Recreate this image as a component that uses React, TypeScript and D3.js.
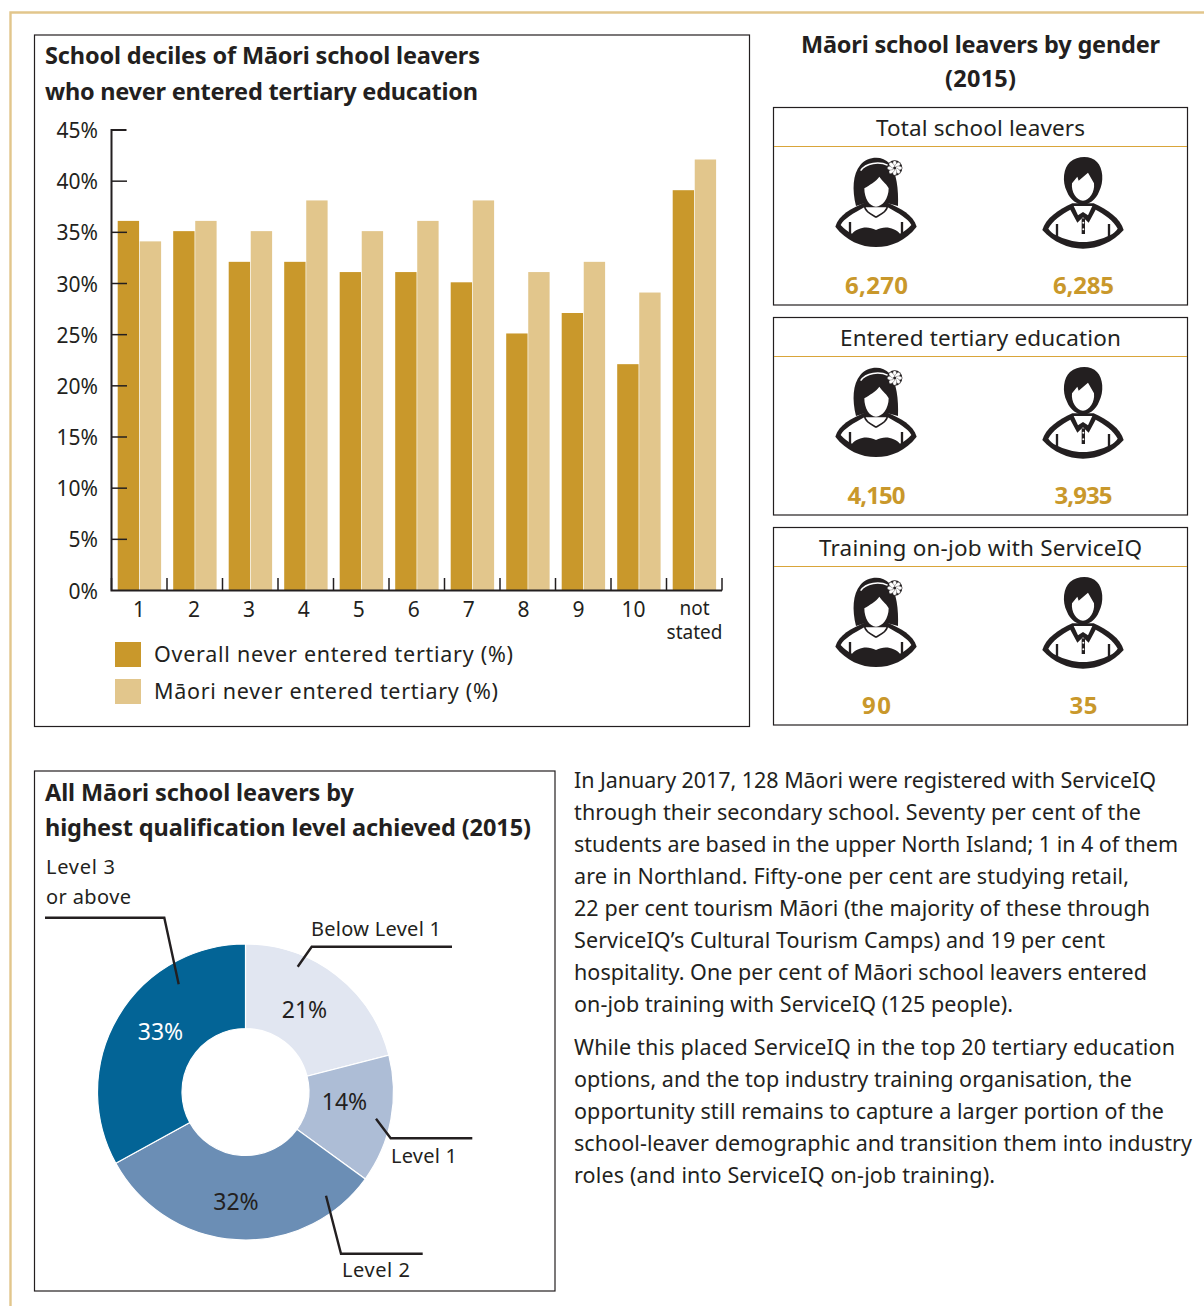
import React from "react";
import * as d3 from "d3";

const categories = ["1", "2", "3", "4", "5", "6", "7", "8", "9", "10", "not stated"];
const overallValues = [36, 35, 32, 32, 31, 31, 30, 25, 27, 22, 39];
const maoriValues = [34, 36, 35, 38, 35, 36, 38, 31, 32, 29, 42];
const yTicks = [0, 5, 10, 15, 20, 25, 30, 35, 40, 45];
const seriesNames = ["Overall never entered tertiary (%)", "Māori never entered tertiary (%)"];

const donutLabels = ["Below Level 1", "Level 1", "Level 2", "Level 3 or above"];
const donutValues = [21, 14, 32, 33];

const genderHeadings = ["Total school leavers", "Entered tertiary education", "Training on-job with ServiceIQ"];
const femaleCounts = ["6,270", "4,150", "90"];
const maleCounts = ["6,285", "3,935", "35"];

const paragraphOne = [
  ["In January 2017, 128 Māori were registered with ServiceIQ", 582],
  ["through their secondary school. Seventy per cent of the", 567],
  ["students are based in the upper North Island; 1 in 4 of them", 604],
  ["are in Northland. Fifty-one per cent are studying retail,", 555],
  ["22 per cent tourism Māori (the majority of these through", 576],
  ["ServiceIQ’s Cultural Tourism Camps) and 19 per cent", 531],
  ["hospitality. One per cent of Māori school leavers entered", 573],
  ["on-job training with ServiceIQ (125 people).", 439],
] as [string, number][];
const paragraphTwo = [
  ["While this placed ServiceIQ in the top 20 tertiary education", 601],
  ["options, and the top industry training organisation, the", 558],
  ["opportunity still remains to capture a larger portion of the", 590],
  ["school-leaver demographic and transition them into industry", 618],
  ["roles (and into ServiceIQ on-job training).", 421],
] as [string, number][];

const INK = "#231f20";
const GOLD = "#c9982b";
const PALE = "#e2c68c";
const FONT = "'Noto Sans', sans-serif";
const donutColors = ["#e1e6f1", "#adbdd6", "#6b8eb5", "#036496"];

function T({ x, y, size = 21, w, anchor = "start", weight = 400, fill = INK, children }: any) {
  return (
    <text x={x} y={y} fontSize={size} fontWeight={weight} fill={fill} textAnchor={anchor} fontFamily={FONT}
      textLength={w} lengthAdjust={w ? "spacing" : undefined}>
      {children}
    </text>
  );
}

function Woman({ x, y }: { x: number; y: number }) {
  const petals = d3.range(8).map((i) => (i * 360) / 8);
  return (
    <g transform={`translate(${x},${y}) scale(${1 / 3})`}>
      <path fill={INK} d="M90 168C78 120 80 72 103 45C125 18 170 16 190 40C212 65 218 120 216 168L180 158L120 158Z" />
      <path fill="none" stroke="#fff" strokeWidth={4.5} d="M104 62C120 38 160 34 186 46" />
      <path fill={INK} d="M28 230C38 195 75 175 120 156L180 156C225 175 262 195 272 230C240 272 195 291 150 291C105 291 60 272 28 230Z" />
      <path fill="#fff" d="M44 225C54 206 82 190 115 172L185 172C218 190 246 206 256 225C245 237 235 245 222 251C205 232 175 226 150 240C125 226 95 232 78 251C65 245 55 237 44 225Z" />
      <path fill="none" stroke={INK} strokeWidth={5} d="M115 163C115 186 138 194 150 201C162 194 185 186 185 163" />
      <path fill="#fff" d="M115 115C130 105 150 95 160 80C170 95 185 105 188 115C188 145 170 170 150 170C130 170 115 145 115 115Z" />
      <path stroke={INK} strokeWidth={7} d="M72 216V252M228 216V252" />
      <g transform="translate(206,54)">
        <circle r={23} fill={INK} />
        {petals.map((a) => (
          <ellipse key={a} cx={0} cy={-12} rx={6} ry={10} fill="#fff" stroke={INK} strokeWidth={1} transform={`rotate(${a})`} />
        ))}
        <circle r={4} fill={INK} />
      </g>
    </g>
  );
}

function Man({ x, y }: { x: number; y: number }) {
  return (
    <g transform={`translate(${x},${y}) scale(${1 / 3})`}>
      <path fill={INK} d="M102 125C86 95 92 52 111 36C135 16 174 16 192 36C210 54 214 95 198 125C189 150 165 164 150 164C135 164 111 150 102 125Z" />
      <path fill="#fff" d="M117 100L133 80L137 92L165 68L183 100C186 125 170 152 150 152C130 152 114 125 117 100Z" />
      <path fill={INK} d="M28 240C38 205 75 180 118 160L182 160C225 180 262 205 272 240C240 276 195 296 150 296C105 296 60 276 28 240Z" />
      <path fill="#fff" d="M46 236C57 213 87 192 112 179L133 218L150 202L167 218L188 179C213 192 243 213 254 236C248 245 240 251 232 255C205 268 180 276 150 276C120 276 95 268 68 255C60 251 52 245 46 236Z" />
      <path fill="#fff" d="M122 168L178 168L165 196L150 186L135 196Z" />
      <path fill={INK} d="M146 205H156V252H146Z" />
      <circle cx={151} cy={218} r={3} fill="#fff" />
      <circle cx={151} cy={238} r={3} fill="#fff" />
      <path stroke={INK} strokeWidth={7} d="M72 222V260M228 222V260" />
    </g>
  );
}

export default function App() {
  const x0 = d3.scaleBand<string>().domain(categories).range([111.5, 722]);
  const x1 = d3.scaleBand<number>().domain([0, 1]).range([6.2, 49.6]).paddingInner(0.03);
  const xLabel = d3.scalePoint<string>().domain(categories.slice(0, -1)).range([139, 633.5]);
  const y = d3.scaleLinear().domain([0, 45]).range([590.5, 130]);
  const barLift = 1.2;

  const pie = d3.pie<number>().sort(null)(donutValues);
  const arc = d3.arc<d3.PieArcDatum<number>>().innerRadius(63.5).outerRadius(148);
  const cx = 245.5;
  const cy = 1092;
  const boxTops = [107, 317, 527];
  const pctPos = [[304.5, 1018], [344.5, 1110], [236, 1210], [160.5, 1040]];
  const femaleW = [63, 58, 29];
  const maleW = [61, 58, 28];

  return (
    <svg width={1204} height={1306} style={{ position: "absolute", left: 0, top: 0, display: "block", background: "#fff" }}>
      <path d="M1204 12.5H10.5V1306" fill="none" stroke={PALE} strokeWidth={2.4} />

      {/* Bar panel */}
      <rect x={34.5} y={35} width={715} height={691.5} fill="none" stroke={INK} strokeWidth={1.2} />
      <T x={45} y={64} size={23.5} weight={700} w={435}>School deciles of Māori school leavers</T>
      <T x={45} y={100} size={23.5} weight={700} w={433}>who never entered tertiary education</T>

      {categories.map((c, i) => (
        <g key={c} transform={`translate(${x0(c)},0)`}>
          <rect x={x1(0)} y={y(overallValues[i]) - barLift} width={x1.bandwidth()} height={y(0) - y(overallValues[i]) + barLift} fill={GOLD} />
          <rect x={x1(1)} y={y(maoriValues[i]) - barLift} width={x1.bandwidth()} height={y(0) - y(maoriValues[i]) + barLift} fill={PALE} />
        </g>
      ))}
      <path d={`M${x0.range()[0] + 15} ${y(45)}H${x0.range()[0]}V${y(0)}H${x0.range()[1]}`} fill="none" stroke={INK} strokeWidth={2} />
      {yTicks.slice(1, -1).map((t) => (
        <line key={t} x1={111.5} x2={127} y1={y(t)} y2={y(t)} stroke={INK} strokeWidth={1.5} />
      ))}
      {[...categories.map((c) => x0(c)!), x0.range()[1]].map((px) => (
        <line key={px} x1={px} x2={px} y1={578} y2={y(0)} stroke={INK} strokeWidth={1.5} />
      ))}
      {yTicks.map((t) => (
        <T key={t} x={98} y={y(t) + 8} anchor="end" size={21}>{t}%</T>
      ))}
      {categories.slice(0, -1).map((c) => (
        <T key={c} x={xLabel(c)} y={617} anchor="middle" size={21}>{c}</T>
      ))}
      <T x={694.5} y={615} anchor="middle" size={19}>not</T>
      <T x={694.5} y={639} anchor="middle" size={19}>stated</T>

      <rect x={115} y={642} width={26} height={25} fill={GOLD} />
      <rect x={115} y={679} width={26} height={25} fill={PALE} />
      <T x={154} y={662} size={21.5} w={359}>{seriesNames[0]}</T>
      <T x={154} y={698.5} size={21.5} w={344}>{seriesNames[1]}</T>

      {/* Gender panel */}
      <T x={980.5} y={53} anchor="middle" size={23.5} weight={700} w={359}>Māori school leavers by gender</T>
      <T x={980.5} y={87} anchor="middle" size={23.5} weight={700} w={71}>(2015)</T>
      {boxTops.map((top, i) => (
        <g key={top}>
          <rect x={773.5} y={top + 0.5} width={414} height={197.5} fill="none" stroke={INK} strokeWidth={1.2} />
          <line x1={774} x2={1187} y1={top + 39.5} y2={top + 39.5} stroke="#d9a53a" strokeWidth={1.2} />
          <T x={980.5} y={top + 28.5} anchor="middle" size={22.5}
            w={[209, 281, 323][i]}>{genderHeadings[i]}</T>
          <Woman x={826} y={top + 43} />
          <Man x={1033} y={top + 43} />
          <T x={876.5} y={top + 187} anchor="middle" size={24} weight={700} fill={GOLD} w={femaleW[i]}>{femaleCounts[i]}</T>
          <T x={1083.5} y={top + 187} anchor="middle" size={24} weight={700} fill={GOLD} w={maleW[i]}>{maleCounts[i]}</T>
        </g>
      ))}

      {/* Donut panel */}
      <rect x={34.5} y={771} width={520.5} height={520} fill="none" stroke={INK} strokeWidth={1.2} />
      <T x={45} y={801} size={23.5} weight={700} w={309}>All Māori school leavers by</T>
      <T x={45} y={835.5} size={23.5} weight={700} w={486}>highest qualification level achieved (2015)</T>
      <g transform={`translate(${cx},${cy})`}>
        {pie.map((d, i) => (
          <path key={i} d={arc(d)!} fill={donutColors[i]} stroke="#fff" strokeWidth={1.2} />
        ))}
      </g>
      {pie.map((d, i) => (
        <T key={i} x={pctPos[i][0]} y={pctPos[i][1]} anchor="middle" size={23} fill={i === 3 ? "#fff" : INK}>
          {d.value}%
        </T>
      ))}
      <g fill="none" stroke={INK} strokeWidth={2.4}>
        <path d="M45 917.7H164.3L178.7 984.3" />
        <path d="M452 946.7H311.7L297.7 966.7" />
        <path d="M376 1118.7L390.7 1138.3H472.3" />
        <path d="M326 1195.7L341 1253.7H422.7" />
      </g>
      <T x={46} y={873.5} size={20} w={69}>Level 3</T>
      <T x={46} y={904} size={20} w={85}>or above</T>
      <T x={311} y={935.5} size={20} w={130}>{donutLabels[0]}</T>
      <T x={391} y={1162.5} size={20} w={66}>{donutLabels[1]}</T>
      <T x={342} y={1276.5} size={20} w={68}>{donutLabels[2]}</T>

      {/* Body text */}
      {paragraphOne.map(([s, w], i) => (
        <T key={i} x={574} y={788 + i * 32} size={21.5} w={w}>{s}</T>
      ))}
      {paragraphTwo.map(([s, w], i) => (
        <T key={i} x={574} y={1055 + i * 32} size={21.5} w={w}>{s}</T>
      ))}
    </svg>
  );
}
